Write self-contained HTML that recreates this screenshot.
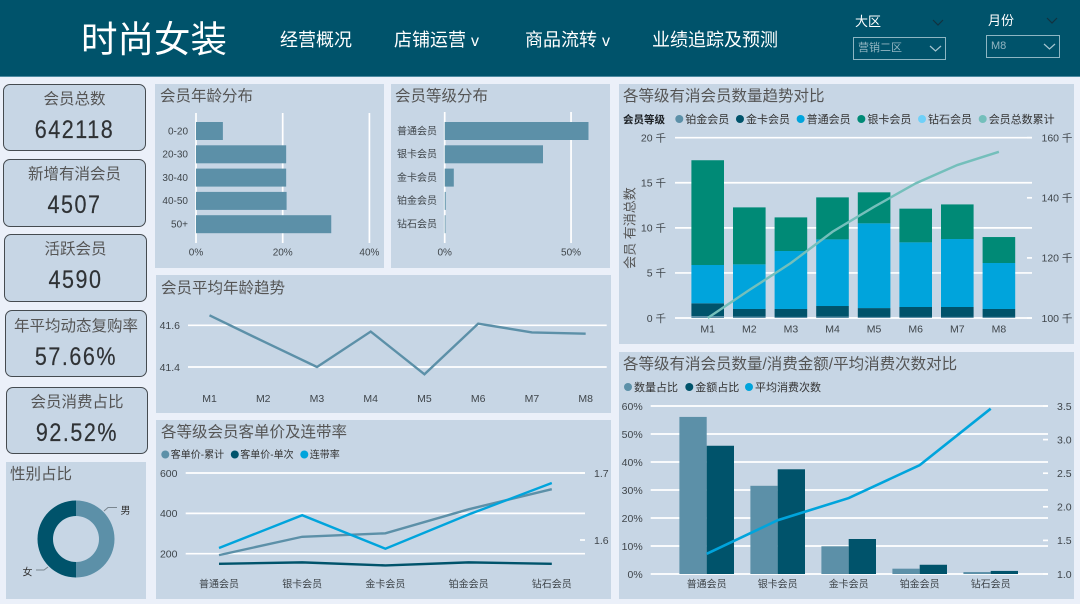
<!DOCTYPE html>
<html lang="zh">
<head>
<meta charset="utf-8">
<title>时尚女装</title>
<style>
html,body{margin:0;padding:0;}
body{width:1080px;height:604px;overflow:hidden;position:relative;background:#ebf0f9;font-family:"Liberation Sans","Noto Sans CJK SC",sans-serif;}
.abs{position:absolute;white-space:nowrap;}
.header{left:0;top:0;width:1080px;height:76px;background:#00536b;border-bottom:1px solid #4d8aa0;}
.nav{color:#fff;font-size:18px;line-height:24px;top:28px;}
.slabel{color:#fff;font-size:13px;line-height:18px;}
.drop{box-sizing:border-box;border:1.5px solid #8db6c3;color:#93b6c2;font-size:11px;line-height:20px;padding-left:4px;}
.panel{background:#c7d6e5;}
.title{color:#555;font-size:15.5px;line-height:20px;}
.card{box-sizing:border-box;background:#c7d6e5;border:1px solid #454b50;border-radius:7px;}
.clabel{color:#555;font-size:15.5px;line-height:20px;text-align:center;left:0;right:0;}
.cval{color:#2f3235;font-size:25px;line-height:28px;text-align:center;left:0;right:0;letter-spacing:1.8px;transform:scaleX(.86);-webkit-text-stroke:.2px #2f3235;}
svg{position:absolute;left:0;top:0;}
</style>
</head>
<body>
<div class="abs header"></div>
<div class="abs" style="left:81px;top:15px;color:#fff;font-size:36.5px;line-height:50px">时尚女装</div>
<div class="abs nav" style="left:280px">经营概况</div>
<div class="abs nav" style="left:394px">店铺运营 <span style="font-size:16px">v</span></div>
<div class="abs nav" style="left:525px">商品流转 <span style="font-size:16px">v</span></div>
<div class="abs nav" style="left:652px">业绩追踪及预测</div>

<div class="abs slabel" style="left:855px;top:13px">大区</div>
<div class="abs drop" style="left:853px;top:37px;width:93px;height:23px">营销二区</div>
<div class="abs slabel" style="left:988px;top:12px">月份</div>
<div class="abs drop" style="left:986px;top:35px;width:74px;height:23px">M8</div>
<svg width="1080" height="76" style="pointer-events:none">
<path d="M933 20l5 5 5-5M1047 18l5 5 5-5" fill="none" stroke="#12323f" stroke-width="1.2"/>
<path d="M930 46l5.500 5 5.500-5M1044 44l5.500 5 5.500-5" fill="none" stroke="#a6c6d0" stroke-width="1.2"/>
</svg>

<div class="abs card" style="left:3px;top:84px;width:143px;height:67px">
<div class="abs clabel" style="top:5px">会员总数</div>
<div class="abs cval" style="top:31px">642118</div></div>
<div class="abs card" style="left:3px;top:159px;width:143px;height:68px">
<div class="abs clabel" style="top:5px">新增有消会员</div>
<div class="abs cval" style="top:31px">4507</div></div>
<div class="abs card" style="left:4px;top:234px;width:143px;height:68px">
<div class="abs clabel" style="top:5px">活跃会员</div>
<div class="abs cval" style="top:31px">4590</div></div>
<div class="abs card" style="left:5px;top:310px;width:142px;height:67px">
<div class="abs clabel" style="top:6px">年平均动态复购率</div>
<div class="abs cval" style="top:32px">57.66%</div></div>
<div class="abs card" style="left:6px;top:387px;width:142px;height:67px">
<div class="abs clabel" style="top:5px">会员消费占比</div>
<div class="abs cval" style="top:31px">92.52%</div></div>

<div class="abs panel" style="left:6px;top:462px;width:140px;height:137px"><div class="abs title" style="left:4px;top:3px">性别占比</div></div>
<div class="abs panel" style="left:155px;top:84px;width:229px;height:184px"><div class="abs title" style="left:5px;top:3px">会员年龄分布</div></div>
<div class="abs panel" style="left:391px;top:84px;width:219px;height:184px"><div class="abs title" style="left:4px;top:3px">会员等级分布</div></div>
<div class="abs panel" style="left:156px;top:275px;width:455px;height:138px"><div class="abs title" style="left:5px;top:4px">会员平均年龄趋势</div></div>
<div class="abs panel" style="left:156px;top:420px;width:455px;height:179px"><div class="abs title" style="left:5px;top:3px">各等级会员客单价及连带率</div></div>
<div class="abs panel" style="left:619px;top:84px;width:455px;height:260px"><div class="abs title" style="left:4px;top:3px">各等级有消会员数量趋势对比</div></div>
<div class="abs panel" style="left:619px;top:352px;width:455px;height:247px"><div class="abs title" style="left:4px;top:3px">各等级有消会员数量/消费金额/平均消费次数对比</div></div>

<svg id="charts" width="1080" height="604" viewBox="0 0 1080 604"></svg>

<script>
// ---------- chart data ----------
const ageGroups = ['0-20', '20-30', '30-40', '40-50', '50+'];
const ageShare = [6.2, 20.8, 20.8, 20.9, 31.2];
const ageTicks = [0, 20, 40];

const levelNames = ['普通会员', '银卡会员', '金卡会员', '铂金会员', '钻石会员'];
const levelShare = [56.9, 38.9, 3.6, 0.4, 0.3];
const levelTicks = [0, 50];

const months = ['M1', 'M2', 'M3', 'M4', 'M5', 'M6', 'M7', 'M8'];
const avgAge = [41.648, 41.523, 41.4, 41.57, 41.365, 41.608, 41.566, 41.56];
const avgAgeTicks = [41.4, 41.6];

const priceCategories = ['普通会员', '银卡会员', '金卡会员', '铂金会员', '钻石会员'];
const priceCumulative = [193, 284, 301, 420, 520];
const priceSingle = [150, 157, 142, 157, 150];
const attachRate = [1.588, 1.637, 1.587, 1.638, 1.685];
const priceTicks = [200, 400, 600];
const rateTicks = [1.6, 1.7];
const priceLegend = ['客单价-累计', '客单价-单次', '连带率'];

const platinumK = [0.22, 0.15, 0.12, 0.15, 0.12, 0.12, 0.12, 0.12];
const goldK = [1.41, 0.85, 0.88, 1.18, 0.98, 1.1, 1.1, 0.88];
const normalK = [4.25, 4.95, 6.43, 7.39, 9.4, 7.17, 7.54, 5.1];
const silverK = [11.62, 6.32, 3.73, 4.66, 3.44, 3.74, 3.84, 2.88];
const diamondK = [0, 0, 0, 0, 0, 0, 0, 0];
const memberCumulativeK = [100, 109.3, 118.3, 128.7, 137, 144.8, 150.9, 155.3];
const trendLeftTicks = [0, 5, 10, 15, 20];
const trendRightTicks = [100, 120, 140, 160];
const trendLegend = ['铂金会员', '金卡会员', '普通会员', '银卡会员', '钻石会员', '会员总数累计'];

const compareCategories = ['普通会员', '银卡会员', '金卡会员', '铂金会员', '钻石会员'];
const countShare = [56.1, 31.5, 9.9, 1.9, 0.7];
const amountShare = [45.8, 37.4, 12.5, 3.3, 1.1];
const avgPurchases = [1.3, 1.8, 2.13, 2.62, 3.46];
const compareLeftTicks = [0, 10, 20, 30, 40, 50, 60];
const compareRightTicks = [1.0, 1.5, 2.0, 2.5, 3.0, 3.5];
const compareLegend = ['数量占比', '金额占比', '平均消费次数'];

const genderNames = ['男', '女'];
const genderShare = [50, 50];

// ---------- helpers ----------
const C = {mid: '#5c90a8', dark: '#00536b', blue: '#00a4dc', green: '#008a76', sky: '#6fd0f8', teal: '#74bfbb', grid: '#ffffff', tick: '#3f454a'};
const svg = document.getElementById('charts');
const NS = 'http://www.w3.org/2000/svg';
function el(tag, attrs, parent) {
  const e = document.createElementNS(NS, tag);
  for (const k in attrs) e.setAttribute(k, attrs[k]);
  (parent || svg).appendChild(e);
  return e;
}
function group() { return el('g', {}); }
function label(parent, x, y, s, anchor, size, fill, weight) {
  const t = el('text', {x: x, y: y + 0.8, 'text-anchor': anchor || 'middle', 'dominant-baseline': 'central', 'font-size': size || 10.5, fill: fill || C.tick, 'font-weight': weight || 'normal', 'font-family': '"Liberation Sans","Noto Sans CJK SC",sans-serif'}, parent);
  t.textContent = s;
  return t;
}
function gridLine(parent, x1, y1, x2, y2) {
  return el('line', {x1: x1, y1: y1, x2: x2, y2: y2, stroke: C.grid, 'stroke-width': 1.7}, parent);
}
function bar(parent, x, y, w, h, fill) {
  return el('rect', {x: x, y: y, width: Math.max(w, 0), height: Math.max(h, 0), fill: fill}, parent);
}
function polyline(parent, vals, fx, fy, color, width) {
  const pts = vals.map((v, i) => fx(i).toFixed(2) + ',' + fy(v).toFixed(2)).join(' ');
  return el('polyline', {points: pts, fill: 'none', stroke: color, 'stroke-width': width, 'stroke-linejoin': 'miter'}, parent);
}
function dot(parent, x, y, r, fill) {
  return el('circle', {cx: x, cy: y, r: r, fill: fill}, parent);
}

// ---------- age distribution ----------
(function () {
  const g = group();
  
  
  const x = v => 196 + v * 4.335;
  const y = i => 131 + i * 23.3;
  ageTicks.forEach(t => {
    const l = gridLine(g, x(t), 113, x(t), 243);
    
    
    const s = label(g, x(t), 252, t + '%', 'middle', 10);
    
    
  });
  ageGroups.forEach((c, i) => {
    const s = label(g, 188, y(i), c, 'end', 10);
    
    
    const b = bar(g, x(0), y(i) - 9, x(ageShare[i]) - x(0), 18, C.mid);
    
    
  });
})();

// ---------- level distribution ----------
(function () {
  const g = group();
  
  
  const x = v => 444.7 + v * 2.527;
  const y = i => 131 + i * 23.3;
  levelTicks.forEach(t => {
    const l = gridLine(g, x(t), 112, x(t), 243);
    
    
    const s = label(g, x(t), 252, t + '%', 'middle', 10);
    
    
  });
  levelNames.forEach((c, i) => {
    const s = label(g, 437, y(i), c, 'end', 10);
    
    
    const b = bar(g, x(0), y(i) - 9, x(levelShare[i]) - x(0), 18, C.mid);
    
    
  });
})();

// ---------- average age trend ----------
(function () {
  const g = group();
  
  
  const x = i => 209.5 + i * 53.74;
  const y = v => 367 - (v - 41.4) * 208.5;
  avgAgeTicks.forEach(t => {
    const l = gridLine(g, 188, y(t), 606.7, y(t));
    
    
    const s = label(g, 180, y(t), t.toFixed(1), 'end', 10.5);
    
    
  });
  months.forEach((m, i) => {
    const s = label(g, x(i), 398, m, 'middle', 10.5);
    
    
  });
  const p = polyline(g, avgAge, x, y, C.mid, 2.4);
  
  
})();

// ---------- unit price & attach rate ----------
(function () {
  const g = group();
  
  
  const x = i => 219 + i * 83.2;
  const yL = v => 553.7 - (v - 200) * 0.2017;
  const yR = v => 473 + (1.7 - v) * 670;
  priceTicks.forEach(t => {
    const l = gridLine(g, 185.7, yL(t), 585, yL(t));
    
    
    const s = label(g, 177.5, yL(t), String(t), 'end', 10.5);
    
    
  });
  rateTicks.forEach(t => {
    const l = gridLine(g, 580, yR(t), 585, yR(t));
    
    
    const s = label(g, 594, yR(t), t.toFixed(1), 'start', 10.5);
    
    
  });
  priceCategories.forEach((c, i) => {
    const s = label(g, x(i), 584, c, 'middle', 10);
    
    
  });
  const colors = [C.mid, C.dark, C.blue];
  priceLegend.forEach((n, i) => {
    const lx = 165.3 + i * 69.5;
    const d = dot(g, lx, 454.5, 4, colors[i]);
    
    
    const s = label(g, lx + 5.5, 454.5, n, 'start', 10, '#333');
    
    
  });
  const a = polyline(g, priceCumulative, x, yL, C.mid, 2.4);
  
  
  const b = polyline(g, priceSingle, x, yL, C.dark, 2.4);
  
  
  const r = polyline(g, attachRate, x, yR, C.blue, 2.4);
  
  
})();

// ---------- member trend ----------
(function () {
  const g = group();
  
  
  const x = i => 707.7 + i * 41.6;
  const yL = v => 318 - v * 9.015;
  const yR = v => 318 - (v - 100) * 3.005;
  trendLeftTicks.forEach(t => {
    const l = gridLine(g, 675, yL(t), 1032, yL(t));
    
    
    const s = label(g, 666, yL(t), t + ' 千', 'end', 10.5);
    
    
  });
  trendRightTicks.forEach(t => {
    const l = gridLine(g, 1027, yR(t), 1032, yR(t));
    
    
    const s = label(g, 1041.5, yR(t), t + ' 千', 'start', 10.5);
    
    
  });
  const head = label(g, 623, 119, '会员等级', 'start', 10.5, '#1c2024', 'bold');
  
  
  const colors = [C.mid, C.dark, C.blue, C.green, C.sky, C.teal];
  trendLegend.forEach((n, i) => {
    const lx = 679.3 + i * 60.68;
    const d = dot(g, lx, 119, 4, colors[i]);
    
    
    const s = label(g, lx + 6, 119, n, 'start', 11, '#333');
    
    
  });
  const stacks = [[platinumK, C.mid], [goldK, C.dark], [normalK, C.blue], [silverK, C.green], [diamondK, C.sky]];
  months.forEach((m, i) => {
    let base = 0;
    stacks.forEach(st => {
      const v = st[0][i];
      const b = bar(g, x(i) - 16.3, yL(base + v), 32.6, yL(base) - yL(base + v), st[1]);
      
      
      base += v;
    });
    const s = label(g, x(i), 328.5, m, 'middle', 10.5);
    
    
  });
  const axisTitle = label(g, 0, 0, '会员 有消总数', 'middle', 13, '#555');
  axisTitle.setAttribute('transform', 'translate(629 228) rotate(-90)');
  
  
  const line = polyline(g, memberCumulativeK, x, yR, C.teal, 2.4);
  
  
})();

// ---------- compare chart ----------
(function () {
  const g = group();
  
  
  const x = i => 706.7 + i * 71;
  const yL = v => 574 - v * 2.8;
  const yR = v => 574 - (v - 1) * 67.2;
  compareLeftTicks.forEach(t => {
    const l = gridLine(g, 650.7, yL(t), 1048, yL(t));
    
    
    const s = label(g, 642.7, yL(t), t + '%', 'end', 10.5);
    
    
  });
  compareRightTicks.forEach(t => {
    const l = gridLine(g, 1043, yR(t), 1048, yR(t));
    
    
    const s = label(g, 1057, yR(t), t.toFixed(1), 'start', 10.5);
    
    
  });
  const colors = [C.mid, C.dark, C.blue];
  const legendX = [628, 689.3, 749];
  compareLegend.forEach((n, i) => {
    const d = dot(g, legendX[i], 387, 4, colors[i]);
    
    
    const s = label(g, legendX[i] + 6, 387, n, 'start', 11, '#333');
    
    
  });
  compareCategories.forEach((c, i) => {
    const a = bar(g, x(i) - 27.3, yL(countShare[i]), 27.3, yL(0) - yL(countShare[i]), C.mid);
    
    
    const b = bar(g, x(i), yL(amountShare[i]), 27.3, yL(0) - yL(amountShare[i]), C.dark);
    
    
    const s = label(g, x(i), 584, c, 'middle', 10);
    
    
  });
  const line = polyline(g, avgPurchases, x, yR, C.blue, 2.6);
  
  
})();

// ---------- gender donut ----------
(function () {
  const g = group();
  
  
  const cx = 76, cy = 539, R = 38.5, r = 23;
  const total = genderShare.reduce((a, b) => a + b, 0);
  const colors = [C.mid, C.dark];
  let angle = 0;
  const pt = (rad, a) => (cx + rad * Math.sin(a)).toFixed(2) + ' ' + (cy - rad * Math.cos(a)).toFixed(2);
  genderShare.forEach((v, i) => {
    const end = angle + v / total * Math.PI * 2;
    const large = end - angle > Math.PI ? 1 : 0;
    const d = 'M' + pt(R, angle) + 'A' + R + ' ' + R + ' 0 ' + large + ' 1 ' + pt(R, end) + 'L' + pt(r, end) + 'A' + r + ' ' + r + ' 0 ' + large + ' 0 ' + pt(r, angle) + 'Z';
    const s = el('path', {d: d, fill: colors[i]}, g);
    
    
    angle = end;
  });
  const leaderA = el('polyline', {points: '104,511 108,507.500 117,507.500', fill: 'none', stroke: '#7a868f', 'stroke-width': 1}, g);
  
  
  const leaderB = el('polyline', {points: '48,567 44,570 36,570', fill: 'none', stroke: '#7a868f', 'stroke-width': 1}, g);
  
  
  const m = label(g, 125.5, 510.5, genderNames[0], 'middle', 10, '#333');
  
  
  const f = label(g, 27.5, 572, genderNames[1], 'middle', 10, '#333');
  
  
})();
</script>
</body>
</html>
